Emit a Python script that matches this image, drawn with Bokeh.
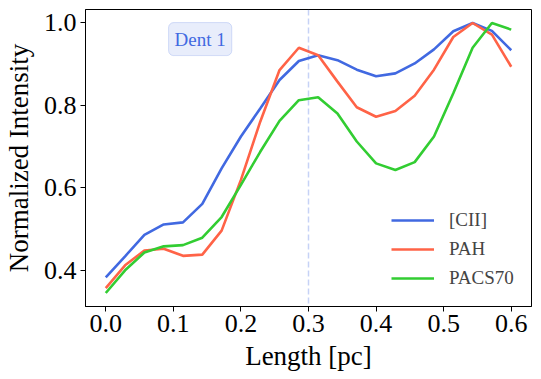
from bokeh.plotting import figure
from bokeh.models import Range1d, FixedTicker, PrintfTickFormatter, Span, Label, Legend, LegendItem
from bokeh.embed import file_html
from bokeh.resources import INLINE

# ---- data ----
n_points = 22
length_pc = [i * 0.6 / (n_points - 1) for i in range(n_points)]
cii = [0.383, 0.434, 0.486, 0.511, 0.516, 0.561, 0.647, 0.724, 0.792, 0.861, 0.907,
       0.921, 0.909, 0.886, 0.870, 0.877, 0.901, 0.935, 0.979, 0.999, 0.980, 0.933]
pah = [0.357, 0.412, 0.448, 0.452, 0.435, 0.438, 0.496, 0.619, 0.760, 0.885, 0.939,
       0.921, 0.857, 0.795, 0.772, 0.786, 0.823, 0.886, 0.965, 0.999, 0.971, 0.893]
pacs70 = [0.345, 0.400, 0.443, 0.458, 0.461, 0.479, 0.529, 0.607, 0.687, 0.762, 0.812,
          0.819, 0.780, 0.712, 0.659, 0.643, 0.662, 0.724, 0.829, 0.939, 0.999, 0.983]
series_names = ["[CII]", "PAH", "PACS70"]
x_ticks = [0.0, 0.1, 0.2, 0.3, 0.4, 0.5, 0.6]
y_ticks = [0.4, 0.6, 0.8, 1.0]
dent_x = 0.3
dent_label = "Dent 1"

colors = ["#4169E1", "#FF6347", "#32CD32"]
FONT = "Liberation Serif"

# ranges with 5% margins like matplotlib
xlo, xhi = min(length_pc), max(length_pc)
allv = cii + pah + pacs70
ylo, yhi = min(allv), max(allv)
xp = 0.05 * (xhi - xlo)
yp = 0.05 * (yhi - ylo)

p = figure(width=533, height=379, output_backend="svg", toolbar_location=None,
           x_range=Range1d(xlo - xp, xhi + xp), y_range=Range1d(ylo - yp, yhi + yp),
           min_border_left=82, min_border_right=2, min_border_top=9, min_border_bottom=73)

p.grid.visible = False
p.outline_line_color = "black"
p.outline_line_width = 1
p.background_fill_color = "white"
p.border_fill_color = "white"

for ax in (p.xaxis[0], p.yaxis[0]):
    ax.major_label_text_font = FONT
    ax.major_label_text_font_size = "26px"
    ax.major_label_text_color = "black"
    ax.axis_label_text_font = FONT
    ax.axis_label_text_font_size = "27px"
    ax.axis_label_text_font_style = "normal"
    ax.axis_label_text_color = "black"
    ax.major_tick_in = 0
    ax.major_tick_out = 5
    ax.minor_tick_in = 0
    ax.minor_tick_out = 0
    ax.axis_line_color = "black"
    ax.major_tick_line_color = "black"
    ax.formatter = PrintfTickFormatter(format="%.1f")

p.xaxis.ticker = FixedTicker(ticks=x_ticks)
p.yaxis.ticker = FixedTicker(ticks=y_ticks)
p.xaxis.axis_label = "Length [pc]"
p.yaxis.axis_label = "Normalized Intensity"
p.xaxis.major_label_standoff = 3
p.yaxis.major_label_standoff = 4
p.xaxis.axis_label_standoff = 6
p.yaxis.axis_label_standoff = 7

span = Span(location=dent_x, dimension="height", line_color="#4169E1", line_alpha=0.3,
            line_width=1.5, line_dash="6 3")
p.add_layout(span)

renderers = []
for vals, c in zip([cii, pah, pacs70], colors):
    r = p.line(length_pc, vals, line_color=c, line_width=2.6)
    renderers.append(r)

legend = Legend(items=[LegendItem(label=nm, renderers=[r]) for nm, r in zip(series_names, renderers)],
                location=(306, 14), padding=0, margin=0, spacing=1,
                glyph_width=43, glyph_height=28, label_height=28, label_standoff=15,
                label_text_font=FONT, label_text_font_size="19px",
                border_line_alpha=0, background_fill_alpha=0)
p.add_layout(legend)

lbl = Label(x=0.1397, y=0.960, text=dent_label, text_align="center", text_baseline="middle",
            text_font=FONT, text_font_size="19px", text_color="#4169E1",
            background_fill_color="#4169E1", background_fill_alpha=0.12,
            border_line_color="#4169E1", border_line_alpha=0.2,
            padding=6, border_radius=5)
p.add_layout(lbl)

open("out.html", "w").write(file_html(p, INLINE))
